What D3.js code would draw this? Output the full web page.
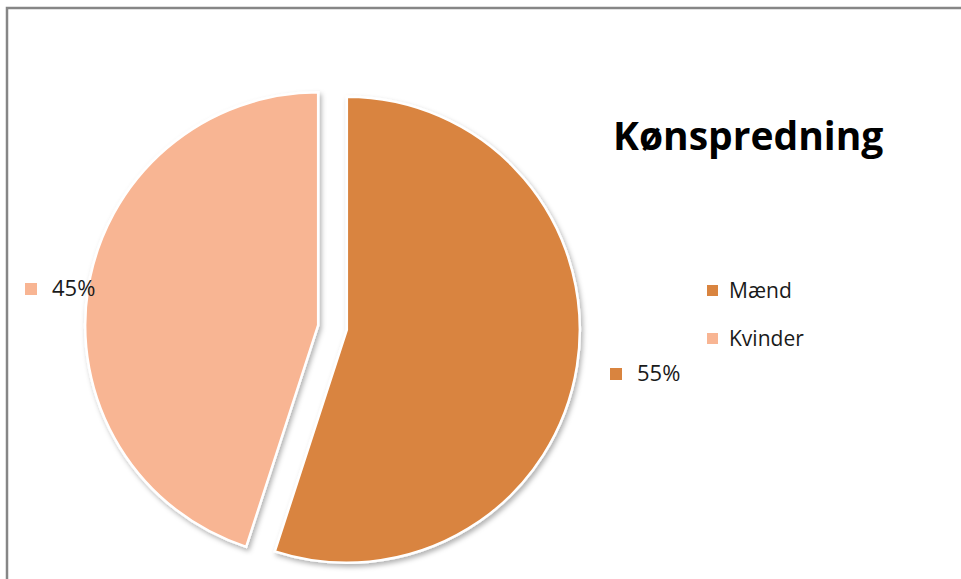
<!DOCTYPE html>
<html>
<head>
<meta charset="utf-8">
<script src="https://cdn.jsdelivr.net/npm/d3@7"></script>
<style>
  body { margin: 0; background: #fff; }
  text { font-family: "Open Sans", Lato, sans-serif; fill: #1a1a1a; }
</style>
</head>
<body>
<div id="chart-area"></div>
<script>

// Data
let categories = ["Mænd", "Kvinder"];
let shares = [55, 45];
let labels = ["55%", "45%"];
let colors = ["#D9843F", "#F8B593"];

let width = 961, height = 579;

let svg = d3.select("#chart-area").append("svg")
    .attr("width", width)
    .attr("height", height);

// drop shadow for the slices
let defs = svg.append("defs");
defs.append("filter")
    .attr("id", "shadow")
    .attr("x", "-20%").attr("y", "-20%")
    .attr("width", "140%").attr("height", "140%")
  .append("feDropShadow")
    .attr("dx", 2)
    .attr("dy", 3)
    .attr("stdDeviation", 2.5)
    .attr("flood-color", "#000")
    .attr("flood-opacity", 0.3);

// chart frame
svg.append("path")
    .attr("d", "M7,579 L7,8 L961,8")
    .attr("fill", "none")
    .attr("stroke", "#868686")
    .attr("stroke-width", 2.5);

let cx = 332.5, cy = 327.5, radius = 233, explode = 14.5;

let data = categories.map((c, i) => ({name: c, value: shares[i], label: labels[i], color: colors[i]}));

let pie = d3.pie()
    .sort(null)
    .value(d => d.value);

let arc = d3.arc()
    .innerRadius(0)
    .outerRadius(radius);

let arcs = pie(data);

let g = svg.append("g")
    .attr("transform", "translate(" + cx + "," + cy + ")");

g.selectAll("path.slice")
    .data(arcs)
  .enter().append("path")
    .attr("class", "slice")
    .attr("d", arc)
    .attr("fill", d => d.data.color)
    .attr("stroke", "#fff")
    .attr("stroke-width", 2.5)
    .attr("stroke-linejoin", "miter")
    .attr("filter", "url(#shadow)")
    .attr("transform", d => {
        let mid = (d.startAngle + d.endAngle) / 2;
        return "translate(" + (Math.sin(mid) * explode) + "," + (-Math.cos(mid) * explode) + ")";
    });

// data labels (positions, outside the pie)
let labelPos = [{x: 610, y: 381}, {x: 25, y: 296}];

let lab = svg.selectAll("g.dlabel")
    .data(data)
  .enter().append("g")
    .attr("class", "dlabel")
    .attr("transform", (d, i) => "translate(" + labelPos[i].x + "," + labelPos[i].y + ")");

lab.append("rect")
    .attr("x", 0)
    .attr("y", -13)
    .attr("width", 12)
    .attr("height", 12)
    .attr("fill", d => d.color);

lab.append("text")
    .attr("x", 27)
    .attr("y", 0)
    .style("font-size", "22px")
    .text(d => d.label);

// title
svg.append("text")
    .attr("x", 613)
    .attr("y", 150)
    .style("font-size", "39px")
    .style("font-weight", "bold")
    .style("fill", "#000")
    .text("Kønspredning");

// legend
let legend = svg.selectAll("g.legend")
    .data(data)
  .enter().append("g")
    .attr("class", "legend")
    .attr("transform", (d, i) => "translate(707," + (298 + i * 48) + ")");

legend.append("rect")
    .attr("x", 0)
    .attr("y", -13)
    .attr("width", 11)
    .attr("height", 11)
    .attr("fill", d => d.color);

legend.append("text")
    .attr("x", 22)
    .attr("y", 0)
    .style("font-size", "21px")
    .text(d => d.name);

</script>
</body>
</html>
